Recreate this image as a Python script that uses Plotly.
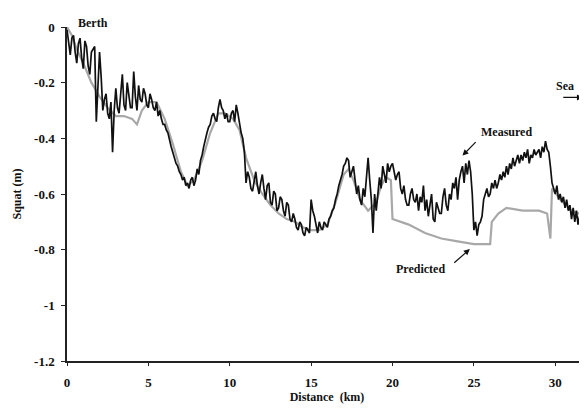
import plotly.graph_objects as go

# Measured squat, sampled every 0.1 km from 0 to 31.9 km (one row per km)
measured_step_km = 0.1
measured = [
    -0.01, -0.06, -0.10, -0.04, -0.03, -0.09, -0.13, -0.06, -0.04, -0.11,
    -0.15, -0.05, -0.07, -0.14, -0.17, -0.09, -0.08, -0.07, -0.34, -0.22,
    -0.09, -0.18, -0.30, -0.26, -0.24, -0.31, -0.33, -0.27, -0.45, -0.30,
    -0.22, -0.29, -0.31, -0.24, -0.17, -0.28, -0.30, -0.20, -0.24, -0.29,
    -0.29, -0.16, -0.25, -0.30, -0.21, -0.26, -0.27, -0.22, -0.24, -0.28,
    -0.29, -0.24, -0.26, -0.29, -0.30, -0.27, -0.32, -0.30, -0.33, -0.35,
    -0.35, -0.37, -0.38, -0.41, -0.43, -0.45, -0.47, -0.49, -0.50, -0.52,
    -0.53, -0.55, -0.54, -0.57, -0.56, -0.58, -0.55, -0.54, -0.57, -0.55,
    -0.51, -0.53, -0.48, -0.46, -0.43, -0.40, -0.38, -0.36, -0.35, -0.32,
    -0.31, -0.33, -0.34, -0.29, -0.26, -0.29, -0.30, -0.33, -0.31, -0.34,
    -0.34, -0.31, -0.30, -0.34, -0.28, -0.31, -0.35, -0.38, -0.40, -0.45,
    -0.56, -0.52, -0.54, -0.58, -0.59, -0.55, -0.52, -0.57, -0.60, -0.56,
    -0.53, -0.58, -0.62, -0.57, -0.56, -0.63, -0.64, -0.59, -0.60, -0.66,
    -0.65, -0.61, -0.62, -0.66, -0.68, -0.63, -0.64, -0.69, -0.70, -0.67,
    -0.69, -0.72, -0.73, -0.70, -0.71, -0.74, -0.75, -0.72, -0.73, -0.74,
    -0.62, -0.66, -0.68, -0.71, -0.74, -0.70, -0.72, -0.73, -0.70, -0.71,
    -0.72, -0.69, -0.68, -0.66, -0.65, -0.62, -0.60, -0.57, -0.55, -0.53,
    -0.50, -0.49, -0.47, -0.48, -0.54, -0.52, -0.50, -0.55, -0.60, -0.57,
    -0.62, -0.64, -0.58, -0.61, -0.52, -0.47, -0.55, -0.62, -0.74, -0.60,
    -0.66, -0.60, -0.54, -0.58, -0.50, -0.53, -0.56, -0.49, -0.52, -0.50,
    -0.49, -0.52, -0.55, -0.53, -0.52, -0.58, -0.60, -0.57, -0.62, -0.64,
    -0.64, -0.60, -0.58, -0.62, -0.63, -0.60, -0.66, -0.61, -0.63, -0.57,
    -0.66, -0.62, -0.68, -0.64, -0.60, -0.69, -0.70, -0.63, -0.65, -0.67,
    -0.67, -0.61, -0.58, -0.64, -0.66, -0.60, -0.62, -0.56, -0.58, -0.54,
    -0.62, -0.55, -0.52, -0.50, -0.56, -0.49, -0.53, -0.48, -0.52, -0.60,
    -0.73, -0.70, -0.75, -0.71, -0.70, -0.68, -0.62, -0.60, -0.58, -0.61,
    -0.60, -0.56, -0.58, -0.55, -0.58, -0.56, -0.53, -0.55, -0.52, -0.54,
    -0.50, -0.53, -0.49, -0.51, -0.47, -0.50, -0.48, -0.46, -0.49, -0.46,
    -0.48, -0.45, -0.47, -0.44, -0.49, -0.46, -0.47, -0.44, -0.46, -0.45,
    -0.44, -0.47, -0.43, -0.45, -0.41, -0.44, -0.45, -0.50, -0.56, -0.58,
    -0.60, -0.57, -0.62, -0.60, -0.63, -0.61, -0.65, -0.62, -0.66, -0.64,
    -0.69, -0.65, -0.70, -0.66, -0.71, -0.68, -0.66, -0.70, -0.68, -0.69,
]
measured_x = [round(i * measured_step_km, 1) for i in range(len(measured))]

# Predicted squat
predicted_x = [0, 0.3, 0.6, 1.0, 1.5, 2.0, 2.5, 3.0, 3.5, 4.0, 4.3, 4.6, 5.0, 5.5,
               6.0, 6.5, 7.0, 7.4, 7.8, 8.3, 8.8, 9.3, 9.7, 10.2, 10.6, 11.0,
               11.5, 12.0, 12.5, 13.0, 13.5, 14.0, 14.5, 15.0, 15.5, 16.0, 16.5,
               17.0, 17.3, 17.6, 18.0, 18.5, 19.0, 19.3, 19.6, 19.9, 20.0, 20.5,
               21.0, 22.0, 23.0, 24.0, 25.0, 26.0, 26.1, 26.5, 27.0, 28.0, 29.0,
               29.5, 29.7, 29.8, 30.3, 31.0, 31.9]
predicted = [0, -0.03, -0.08, -0.13, -0.20, -0.25, -0.29, -0.32, -0.32, -0.33,
             -0.35, -0.30, -0.27, -0.27, -0.33, -0.42, -0.52, -0.57, -0.55,
             -0.48, -0.38, -0.31, -0.31, -0.33, -0.37, -0.47, -0.55, -0.60,
             -0.64, -0.67, -0.69, -0.70, -0.72, -0.73, -0.73, -0.71, -0.63,
             -0.53, -0.51, -0.55, -0.62, -0.66, -0.63, -0.57, -0.54, -0.55,
             -0.69, -0.70, -0.71, -0.74, -0.76, -0.77, -0.78, -0.78, -0.70,
             -0.67, -0.65, -0.66, -0.66, -0.67, -0.76, -0.58, -0.62, -0.66,
             -0.68]

x_ticks = [0, 5, 10, 15, 20, 25, 30]
y_ticks = [0, -0.2, -0.4, -0.6, -0.8, -1.0, -1.2]
y_tick_labels = ["0", "-0.2", "-0.4", "-0.6", "-0.8", "-1", "-1.2"]

FONT = "Liberation Serif"

fig = go.Figure()
fig.add_trace(go.Scatter(x=predicted_x, y=predicted, mode="lines",
                         line=dict(color="#a8a8a8", width=2.2), name="Predicted"))
fig.add_trace(go.Scatter(x=measured_x, y=measured, mode="lines",
                         line=dict(color="#111111", width=1.7), name="Measured"))

arrow = dict(showarrow=True, arrowhead=2, arrowsize=1, arrowwidth=1.2,
             arrowcolor="#111111", axref="x", ayref="y")
txt = dict(family=FONT, size=12, color="#111111", weight="bold")

fig.add_annotation(x=27.0, y=-0.379, text="Measured", showarrow=False, font=txt)
fig.add_annotation(x=24.3, y=-0.462, ax=25.2, ay=-0.408, text="", **arrow)
fig.add_annotation(x=21.7, y=-0.87, text="Predicted", showarrow=False, font=txt)
fig.add_annotation(x=24.75, y=-0.798, ax=23.7, ay=-0.852, text="", **arrow)
fig.add_annotation(x=30.6, y=-0.213, text="Sea", showarrow=False, font=txt)
fig.add_annotation(x=31.7, y=-0.253, ax=30.4, ay=-0.253, text="", **arrow)
fig.add_annotation(x=1.6, xref="x", y=1.039, yref="paper", text="Berth",
                   showarrow=False, font=txt)

# page body adds an 8px offset, so the figure is sized to fit inside 587x408
fig.update_layout(
    width=579, height=400,
    margin=dict(l=59, r=0, t=19, b=47),
    paper_bgcolor="white", plot_bgcolor="white",
    showlegend=False,
    font=dict(family=FONT, size=12, color="#111111"),
)
fig.update_xaxes(range=[0, 31.95], tickvals=x_ticks, ticks="outside", ticklen=3,
                 tickcolor="#222", showline=True, linecolor="#222", linewidth=1.5,
                 showgrid=False, zeroline=False, ticklabelstandoff=6,
                 tickfont=dict(family=FONT, size=13, weight="bold"),
                 title=dict(text="Distance  (km)", standoff=2,
                            font=dict(family=FONT, size=12, weight="bold")))
fig.update_yaxes(range=[-1.2, 0], tickvals=y_ticks, ticktext=y_tick_labels,
                 ticks="outside", ticklen=4, tickcolor="#222", showline=True,
                 linecolor="#222", linewidth=1.5, showgrid=False, zeroline=False,
                 ticklabelstandoff=4,
                 tickfont=dict(family=FONT, size=13, weight="bold"),
                 title=dict(text="Squat (m)", standoff=10,
                            font=dict(family=FONT, size=12, weight="bold")))

fig.write_html("out.html")
